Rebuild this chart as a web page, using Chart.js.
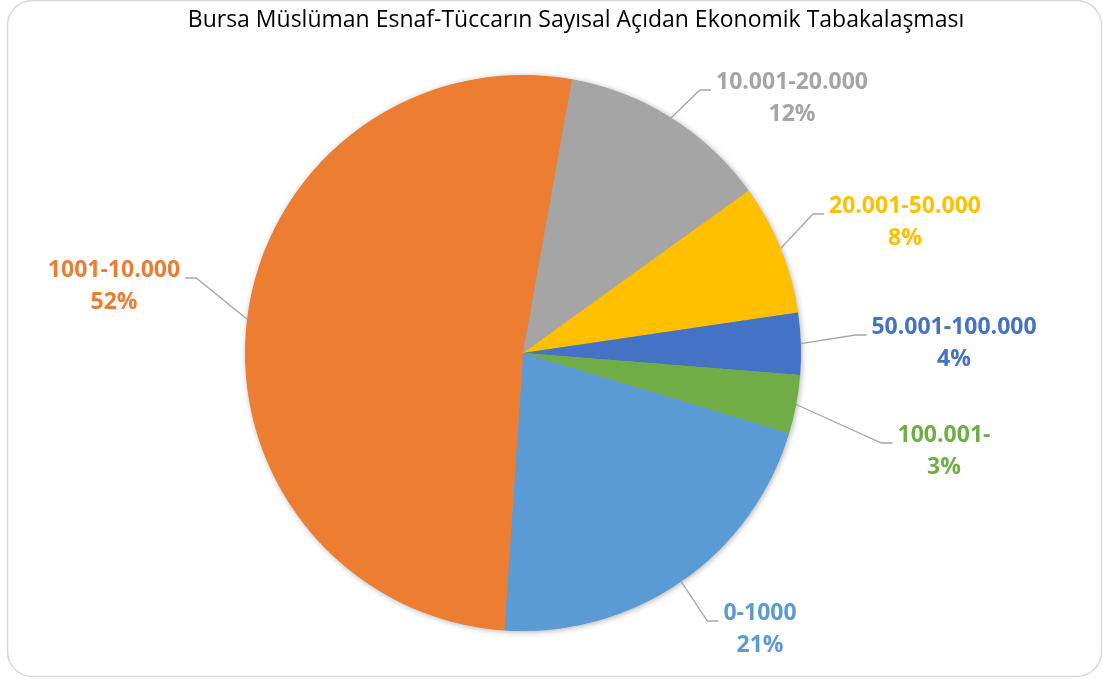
<!DOCTYPE html>
<html>
<head>
<meta charset="utf-8">
<script src="https://cdn.jsdelivr.net/npm/chart.js@4.4.1/dist/chart.umd.min.js"></script>
<style>
  html, body { margin: 0; padding: 0; background: #fff; }
  #wrap { width: 1103px; height: 679px; position: relative; }
</style>
</head>
<body>
<div id="wrap"><canvas id="pieChart"></canvas></div>
<script>
var title = 'Bursa Müslüman Esnaf-Tüccarın Sayısal Açıdan Ekonomik Tabakalaşması';
var categories = ['0-1000', '1001-10.000', '10.001-20.000', '20.001-50.000', '50.001-100.000', '100.001-'];
var shares = [21.4, 51.75, 12.25, 7.6, 3.6, 3.4];
var colors = ['#5B9BD5', '#ED7D31', '#A5A5A5', '#FFC000', '#4472C4', '#70AD47'];

// where each data label sits (centre of its first line), as placed in the original
var labelPos = [
  [760, 613],
  [114, 270],
  [792, 82],
  [905, 206],
  [954, 327],
  [944, 435]
];

var labelFont = 'bold 23px "Open Sans"';

var decor = {
  id: 'decor',
  beforeDraw: function(chart) {
    var ctx = chart.ctx;
    ctx.save();
    ctx.fillStyle = '#fff';
    ctx.fillRect(0, 0, chart.width, chart.height);
    ctx.strokeStyle = '#d9d9d9';
    ctx.lineWidth = 1.5;
    ctx.beginPath();
    ctx.roundRect(7.5, 0.5, 1094, 676, 25);
    ctx.stroke();

    // title, fitted to the width it has in the original
    var size = 22;
    ctx.font = size + 'px "Open Sans"';
    var w = ctx.measureText(title).width;
    size = size * 777 / w;
    ctx.font = size + 'px "Open Sans"';
    ctx.fillStyle = '#000';
    ctx.textAlign = 'center';
    ctx.textBaseline = 'middle';
    ctx.fillText(title, 576, 20);
    ctx.restore();
  },
  beforeDatasetsDraw: function(chart) {
    var arc = chart.getDatasetMeta(0).data[0];
    var ctx = chart.ctx;
    ctx.save();
    ctx.shadowColor = 'rgba(0,0,0,0.35)';
    ctx.shadowBlur = 6;
    ctx.shadowOffsetX = 1;
    ctx.shadowOffsetY = 1;
    ctx.fillStyle = '#999';
    ctx.beginPath();
    ctx.arc(arc.x, arc.y, arc.outerRadius - 0.5, 0, Math.PI * 2);
    ctx.fill();
    ctx.restore();
  },
  afterDatasetsDraw: function(chart) {
    var ctx = chart.ctx;
    var meta = chart.getDatasetMeta(0);
    var data = chart.data.datasets[0].data;
    var total = data.reduce(function(a, b) { return a + b; }, 0);
    ctx.save();
    ctx.font = labelFont;
    ctx.textAlign = 'center';
    ctx.textBaseline = 'middle';
    for (var i = 0; i < meta.data.length; i++) {
      var a = meta.data[i];
      var mid = (a.startAngle + a.endAngle) / 2;
      var sx = a.x + Math.cos(mid) * a.outerRadius;
      var sy = a.y + Math.sin(mid) * a.outerRadius;
      var lx = labelPos[i][0], ly = labelPos[i][1];
      var name = chart.data.labels[i];
      var pct = Math.round(data[i] / total * 100) + '%';
      var tw = ctx.measureText(name).width;
      var leftSide = lx < a.x;
      var hx, ex;
      if (leftSide) {
        hx = lx + tw / 2 + 5;
        ex = hx + 11;
      } else {
        hx = lx - tw / 2 - 5;
        ex = hx - 11;
      }
      var ey = ly + 8;
      ctx.strokeStyle = '#A6A6A6';
      ctx.lineWidth = 1.3;
      ctx.beginPath();
      ctx.moveTo(sx, sy);
      ctx.lineTo(ex, ey);
      ctx.lineTo(hx, ey);
      ctx.stroke();

      ctx.fillStyle = colors[i];
      ctx.fillText(name, lx, ly);
      ctx.fillText(pct, lx, ly + 32);
    }
    ctx.restore();
  }
};

var ctx = document.getElementById('pieChart').getContext('2d');
var chart = new Chart(ctx, {
  type: 'pie',
  data: {
    labels: categories,
    datasets: [{
      data: shares,
      backgroundColor: colors,
      borderWidth: 0
    }]
  },
  options: {
    responsive: true,
    maintainAspectRatio: false,
    animation: false,
    rotation: 106.8,
    layout: {
      padding: { left: 245, right: 302, top: 75, bottom: 48 }
    },
    plugins: {
      legend: { display: false },
      title: { display: false },
      tooltip: { enabled: false }
    }
  },
  plugins: [decor]
});
</script>
</body>
</html>
